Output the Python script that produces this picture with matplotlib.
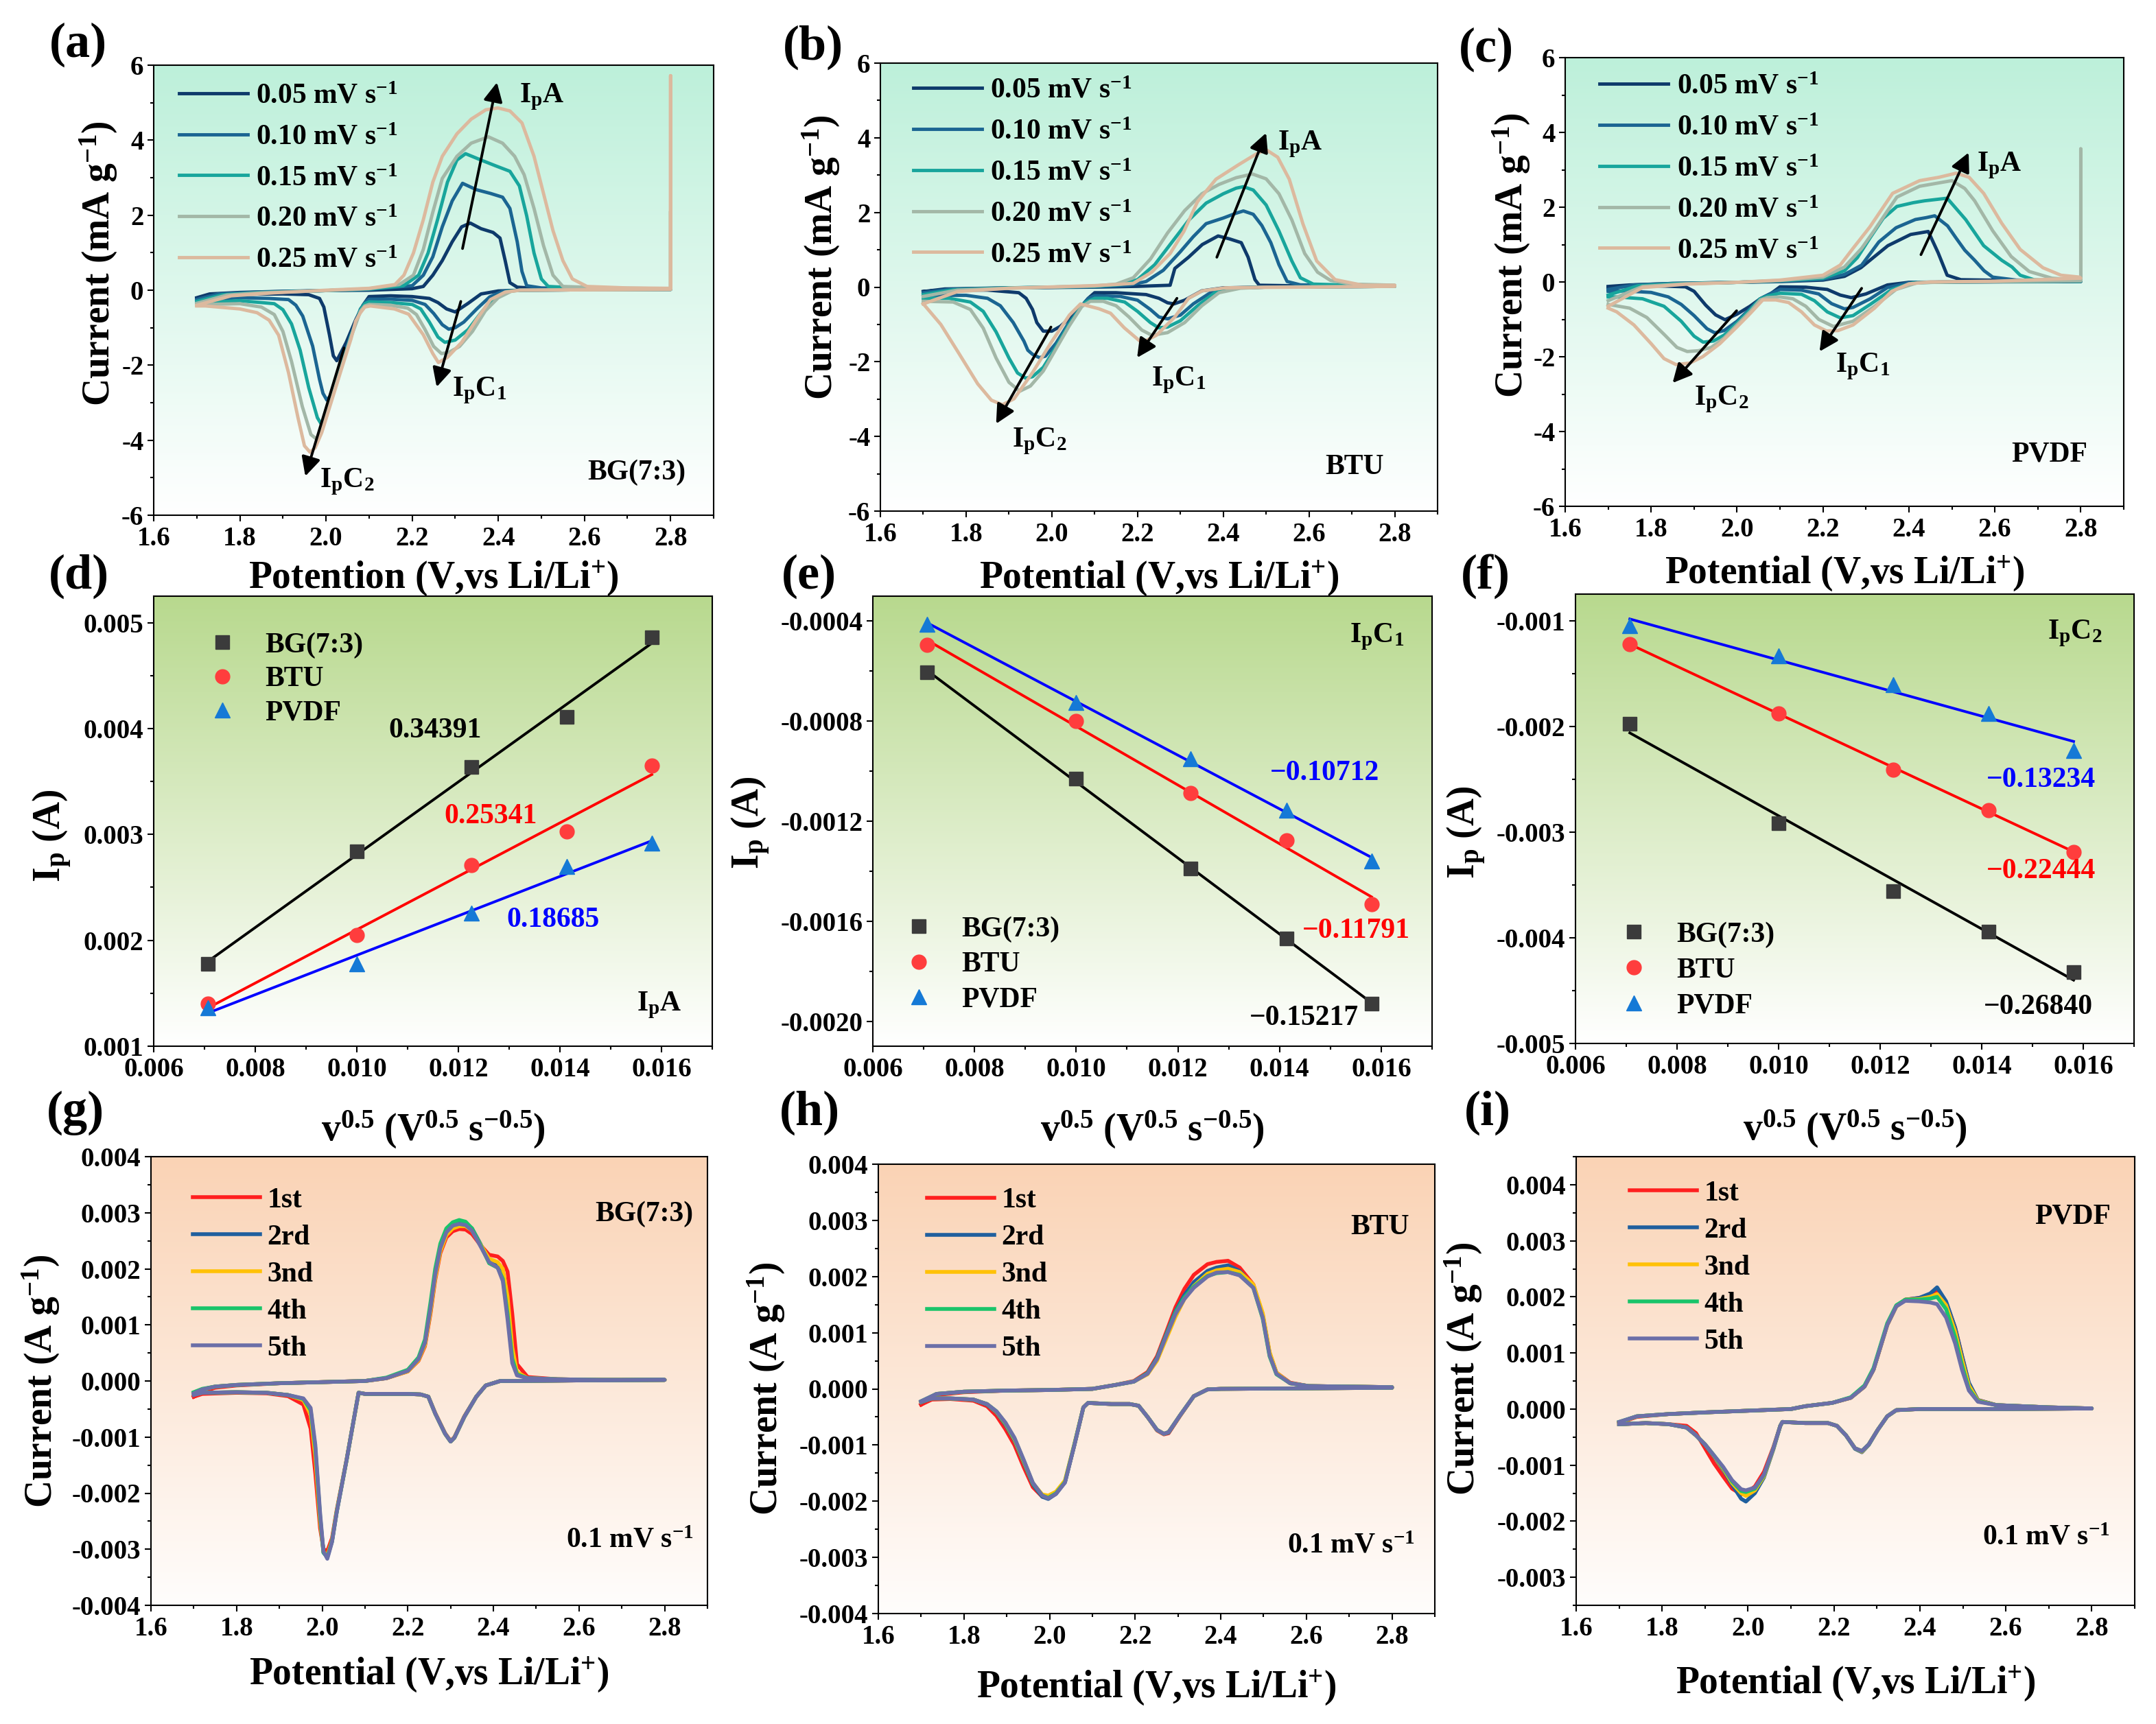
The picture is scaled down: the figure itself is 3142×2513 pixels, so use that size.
import numpy as np
import matplotlib
matplotlib.use('Agg')
import matplotlib.pyplot as plt
from matplotlib.ticker import MultipleLocator, FormatStrFormatter
from matplotlib.colors import to_rgb

# ---------------------------------------------------------------- data
SCAN_LABELS = [r'0.05 mV s$^{-1}$', r'0.10 mV s$^{-1}$', r'0.15 mV s$^{-1}$',
               r'0.20 mV s$^{-1}$', r'0.25 mV s$^{-1}$']
SCAN_COLORS = ['#0e3a6b', '#1b6592', '#18a59c', '#a3b7a7', '#dcb99e']

# (a) BG(7:3): (potential V, current mA/g), anodic 1.7->2.8 then cathodic 2.8->1.7
A_005 = [(1.70,-0.20),(1.73,-0.10),(1.80,-0.06),(1.90,-0.03),(2.00,-0.01),(2.10,0.00),(2.20,0.04),(2.226,0.10),(2.248,0.40),(2.27,0.79),(2.293,1.29),(2.315,1.69),(2.335,1.79),(2.36,1.64),(2.388,1.54),(2.404,1.39),(2.416,0.79),(2.427,0.20),(2.444,0.08),(2.50,0.04),(2.65,0.03),(2.80,0.03),
         (2.80,0.02),(2.60,0.01),(2.45,0.00),(2.40,-0.02),(2.36,-0.10),(2.33,-0.35),(2.30,-0.58),(2.28,-0.50),(2.26,-0.33),(2.24,-0.22),(2.20,-0.17),(2.15,-0.15),(2.10,-0.17),(2.086,-0.40),(2.069,-0.79),(2.047,-1.39),(2.025,-1.88),(2.017,-1.75),(2.008,-1.19),(1.995,-0.45),(1.985,-0.22),(1.96,-0.12),(1.90,-0.10),(1.80,-0.11),(1.72,-0.17),(1.70,-0.22)]
A_010 = [(1.70,-0.25),(1.75,-0.10),(1.85,-0.05),(2.00,-0.01),(2.10,0.02),(2.20,0.12),(2.226,0.40),(2.248,0.89),(2.27,1.69),(2.293,2.38),(2.317,2.85),(2.349,2.68),(2.382,2.58),(2.41,2.48),(2.427,2.18),(2.444,1.29),(2.455,0.50),(2.466,0.12),(2.50,0.06),(2.65,0.04),(2.80,0.03),
         (2.80,0.02),(2.60,0.01),(2.45,0.00),(2.41,-0.03),(2.38,-0.18),(2.35,-0.50),(2.32,-0.85),(2.30,-1.00),(2.285,-1.04),(2.27,-0.92),(2.25,-0.62),(2.23,-0.38),(2.20,-0.27),(2.15,-0.24),(2.10,-0.24),(2.095,-0.28),(2.08,-0.50),(2.058,-1.19),(2.036,-1.98),(2.013,-2.78),(2.002,-2.93),(1.993,-2.75),(1.985,-2.38),(1.969,-1.49),(1.946,-0.69),(1.93,-0.40),(1.913,-0.25),(1.868,-0.22),(1.80,-0.20),(1.72,-0.25),(1.70,-0.30)]
A_015 = [(1.70,-0.30),(1.76,-0.12),(1.85,-0.06),(2.00,-0.01),(2.10,0.03),(2.18,0.12),(2.215,0.40),(2.237,0.99),(2.259,1.88),(2.282,2.88),(2.304,3.47),(2.324,3.64),(2.36,3.47),(2.393,3.32),(2.427,3.17),(2.449,2.78),(2.466,1.98),(2.483,0.99),(2.50,0.30),(2.516,0.10),(2.60,0.05),(2.80,0.03),
         (2.80,0.02),(2.60,0.01),(2.45,0.00),(2.42,-0.03),(2.39,-0.20),(2.36,-0.60),(2.33,-1.05),(2.30,-1.33),(2.276,-1.39),(2.26,-1.25),(2.24,-0.85),(2.22,-0.50),(2.20,-0.38),(2.15,-0.33),(2.10,-0.31),(2.09,-0.36),(2.08,-0.52),(2.058,-1.22),(2.036,-2.02),(2.013,-2.85),(1.995,-3.45),(1.989,-3.57),(1.98,-3.40),(1.96,-2.60),(1.94,-1.60),(1.92,-0.90),(1.90,-0.52),(1.88,-0.36),(1.80,-0.28),(1.72,-0.33),(1.70,-0.36)]
A_020 = [(1.70,-0.35),(1.77,-0.13),(1.85,-0.07),(2.00,-0.01),(2.10,0.04),(2.17,0.15),(2.203,0.40),(2.226,1.09),(2.248,2.08),(2.27,2.98),(2.304,3.57),(2.337,3.92),(2.377,4.09),(2.41,3.92),(2.438,3.57),(2.46,3.08),(2.483,2.18),(2.505,1.19),(2.527,0.40),(2.55,0.10),(2.65,0.06),(2.80,0.04),(2.80,2.10),
         (2.80,0.02),(2.60,0.01),(2.45,0.00),(2.43,-0.03),(2.40,-0.20),(2.37,-0.55),(2.34,-1.10),(2.31,-1.50),(2.285,-1.66),(2.268,-1.69),(2.25,-1.50),(2.23,-1.05),(2.21,-0.65),(2.19,-0.48),(2.15,-0.40),(2.10,-0.38),(2.09,-0.42),(2.08,-0.56),(2.058,-1.25),(2.036,-2.05),(2.013,-2.90),(1.99,-3.70),(1.978,-3.97),(1.965,-3.85),(1.945,-3.10),(1.92,-1.90),(1.90,-1.10),(1.88,-0.65),(1.85,-0.45),(1.80,-0.36),(1.72,-0.38),(1.70,-0.40)]
A_025 = [(1.70,-0.40),(1.78,-0.15),(1.88,-0.07),(2.00,0.00),(2.10,0.05),(2.16,0.15),(2.181,0.40),(2.203,0.99),(2.226,1.88),(2.248,2.88),(2.27,3.57),(2.304,4.17),(2.337,4.56),(2.371,4.81),(2.399,4.86),(2.427,4.78),(2.455,4.46),(2.483,3.57),(2.505,2.58),(2.527,1.59),(2.55,0.79),(2.572,0.30),(2.606,0.10),(2.70,0.06),(2.80,0.05),(2.80,5.72),
         (2.80,0.02),(2.60,0.01),(2.45,0.00),(2.416,-0.05),(2.382,-0.25),(2.349,-0.79),(2.315,-1.39),(2.282,-1.79),(2.261,-1.93),(2.248,-1.69),(2.226,-1.19),(2.192,-0.64),(2.159,-0.50),(2.103,-0.42),(2.09,-0.45),(2.08,-0.60),(2.069,-0.82),(2.058,-1.30),(2.036,-2.10),(2.013,-2.95),(1.99,-3.80),(1.975,-4.20),(1.963,-4.32),(1.95,-4.15),(1.935,-3.40),(1.913,-2.20),(1.89,-1.20),(1.868,-0.80),(1.84,-0.60),(1.80,-0.50),(1.72,-0.42),(1.70,-0.42)]

# (b) BTU
B_005 = [(1.70,-0.12),(1.75,-0.05),(1.90,-0.02),(2.10,0.00),(2.20,0.02),(2.276,0.05),(2.287,0.50),(2.319,0.80),(2.351,1.14),(2.388,1.37),(2.415,1.29),(2.442,1.19),(2.458,0.80),(2.474,0.20),(2.484,0.05),(2.60,0.03),(2.80,0.03),
         (2.80,0.02),(2.50,0.00),(2.40,-0.02),(2.35,-0.10),(2.31,-0.35),(2.285,-0.45),(2.27,-0.42),(2.25,-0.30),(2.22,-0.20),(2.15,-0.15),(2.10,-0.15),(2.085,-0.30),(2.07,-0.50),(2.04,-0.85),(2.02,-1.05),(2.00,-1.18),(1.98,-1.18),(1.965,-0.95),(1.955,-0.60),(1.94,-0.30),(1.923,-0.15),(1.85,-0.08),(1.75,-0.08),(1.70,-0.12)]
B_010 = [(1.70,-0.15),(1.76,-0.06),(1.90,-0.02),(2.10,0.01),(2.18,0.05),(2.22,0.15),(2.26,0.45),(2.30,0.95),(2.33,1.35),(2.36,1.70),(2.40,1.85),(2.43,1.98),(2.447,2.04),(2.47,1.95),(2.49,1.65),(2.511,1.19),(2.53,0.60),(2.549,0.15),(2.58,0.06),(2.70,0.04),(2.80,0.03),
         (2.80,0.02),(2.50,0.00),(2.42,-0.02),(2.37,-0.15),(2.33,-0.45),(2.30,-0.75),(2.27,-0.85),(2.25,-0.80),(2.23,-0.60),(2.20,-0.35),(2.16,-0.25),(2.10,-0.23),(2.085,-0.30),(2.07,-0.50),(2.04,-0.95),(2.01,-1.50),(1.985,-1.85),(1.971,-1.89),(1.955,-1.80),(1.944,-1.69),(1.935,-1.45),(1.91,-0.95),(1.88,-0.50),(1.85,-0.30),(1.80,-0.22),(1.72,-0.22),(1.70,-0.25)]
B_015 = [(1.70,-0.20),(1.77,-0.07),(1.90,-0.02),(2.10,0.02),(2.16,0.07),(2.20,0.20),(2.24,0.60),(2.28,1.20),(2.32,1.80),(2.36,2.25),(2.40,2.50),(2.43,2.65),(2.447,2.69),(2.47,2.60),(2.50,2.20),(2.53,1.50),(2.56,0.70),(2.58,0.25),(2.61,0.08),(2.70,0.05),(2.80,0.04),
         (2.80,0.02),(2.50,0.00),(2.43,-0.02),(2.38,-0.15),(2.34,-0.50),(2.30,-0.90),(2.27,-1.07),(2.249,-1.09),(2.23,-0.95),(2.20,-0.65),(2.17,-0.40),(2.13,-0.30),(2.10,-0.30),(2.08,-0.40),(2.07,-0.50),(2.04,-1.00),(2.01,-1.60),(1.98,-2.15),(1.955,-2.40),(1.939,-2.44),(1.92,-2.30),(1.90,-1.90),(1.87,-1.20),(1.84,-0.65),(1.81,-0.40),(1.76,-0.30),(1.70,-0.30)]
B_020 = [(1.70,-0.25),(1.78,-0.08),(1.90,-0.03),(2.10,0.03),(2.15,0.08),(2.19,0.25),(2.23,0.75),(2.27,1.45),(2.31,2.05),(2.35,2.50),(2.39,2.75),(2.43,2.93),(2.468,3.03),(2.50,2.90),(2.53,2.50),(2.56,1.80),(2.59,0.90),(2.62,0.40),(2.65,0.18),(2.70,0.08),(2.80,0.05),
         (2.80,0.02),(2.50,0.00),(2.44,-0.03),(2.39,-0.15),(2.35,-0.50),(2.31,-0.95),(2.27,-1.22),(2.233,-1.29),(2.21,-1.15),(2.18,-0.80),(2.15,-0.50),(2.12,-0.38),(2.09,-0.38),(2.07,-0.52),(2.04,-1.05),(2.01,-1.65),(1.98,-2.25),(1.95,-2.65),(1.925,-2.79),(1.90,-2.55),(1.87,-1.90),(1.84,-1.10),(1.81,-0.60),(1.77,-0.40),(1.70,-0.38)]
B_025 = [(1.70,-0.45),(1.78,-0.12),(1.90,-0.03),(2.10,0.04),(2.15,0.07),(2.19,0.10),(2.233,0.40),(2.276,0.90),(2.308,1.49),(2.34,2.29),(2.383,2.89),(2.436,3.28),(2.479,3.58),(2.50,3.68),(2.527,3.48),(2.554,2.89),(2.586,1.69),(2.618,0.70),(2.661,0.20),(2.725,0.05),(2.80,0.05),
         (2.80,0.02),(2.60,0.00),(2.45,-0.01),(2.404,-0.02),(2.351,-0.10),(2.319,-0.30),(2.287,-0.80),(2.244,-1.29),(2.21,-1.49),(2.169,-1.09),(2.137,-0.70),(2.11,-0.58),(2.083,-0.50),(2.067,-0.45),(2.041,-0.75),(1.998,-1.49),(1.955,-2.29),(1.912,-2.99),(1.885,-3.15),(1.859,-3.03),(1.827,-2.59),(1.784,-1.79),(1.741,-1.00),(1.704,-0.50),(1.70,-0.45)]

# (c) PVDF
C_005 = [(1.70,-0.12),(1.75,-0.08),(1.85,-0.04),(2.00,-0.01),(2.10,0.01),(2.20,0.05),(2.25,0.15),(2.288,0.38),(2.351,0.97),(2.404,1.27),(2.445,1.35),(2.468,0.78),(2.489,0.18),(2.521,0.06),(2.70,0.03),(2.80,0.02),
         (2.80,0.01),(2.50,0.00),(2.40,-0.01),(2.35,-0.08),(2.30,-0.32),(2.266,-0.42),(2.24,-0.35),(2.21,-0.20),(2.16,-0.14),(2.10,-0.13),(2.08,-0.30),(2.054,-0.45),(2.03,-0.65),(2.00,-0.86),(1.972,-1.01),(1.95,-0.88),(1.927,-0.62),(1.90,-0.25),(1.88,-0.13),(1.80,-0.10),(1.72,-0.13),(1.70,-0.15)]
C_010 = [(1.70,-0.20),(1.76,-0.08),(1.85,-0.04),(2.00,-0.01),(2.10,0.02),(2.20,0.07),(2.25,0.20),(2.29,0.45),(2.33,1.07),(2.37,1.45),(2.415,1.67),(2.44,1.72),(2.46,1.77),(2.49,1.50),(2.51,1.17),(2.53,0.85),(2.553,0.58),(2.575,0.30),(2.595,0.13),(2.65,0.05),(2.80,0.03),
         (2.80,0.02),(2.50,0.00),(2.40,-0.02),(2.35,-0.15),(2.31,-0.45),(2.27,-0.68),(2.25,-0.72),(2.22,-0.58),(2.19,-0.32),(2.15,-0.22),(2.10,-0.20),(2.08,-0.30),(2.054,-0.45),(2.03,-0.72),(2.00,-1.05),(1.97,-1.30),(1.948,-1.36),(1.93,-1.25),(1.90,-0.90),(1.87,-0.60),(1.84,-0.40),(1.80,-0.28),(1.74,-0.24),(1.70,-0.25)]
C_015 = [(1.70,-0.35),(1.77,-0.10),(1.85,-0.05),(2.00,-0.01),(2.10,0.03),(2.20,0.10),(2.25,0.30),(2.28,0.65),(2.309,1.17),(2.34,1.70),(2.372,2.02),(2.41,2.12),(2.436,2.17),(2.489,2.24),(2.532,1.67),(2.574,0.97),(2.616,0.58),(2.64,0.40),(2.659,0.18),(2.691,0.06),(2.75,0.03),(2.80,0.02),
         (2.80,0.02),(2.50,0.00),(2.41,-0.02),(2.36,-0.20),(2.31,-0.60),(2.27,-0.90),(2.24,-0.96),(2.21,-0.80),(2.18,-0.50),(2.15,-0.33),(2.10,-0.30),(2.07,-0.38),(2.054,-0.45),(2.03,-0.75),(2.00,-1.10),(1.97,-1.42),(1.945,-1.58),(1.921,-1.61),(1.90,-1.45),(1.87,-1.05),(1.83,-0.65),(1.78,-0.45),(1.72,-0.40),(1.70,-0.40)]
C_020 = [(1.70,-0.50),(1.78,-0.12),(1.88,-0.05),(2.00,-0.01),(2.10,0.04),(2.20,0.13),(2.25,0.40),(2.29,0.90),(2.319,1.37),(2.35,1.90),(2.372,2.27),(2.425,2.56),(2.50,2.71),(2.53,2.50),(2.553,2.17),(2.595,1.37),(2.638,0.68),(2.68,0.28),(2.733,0.10),(2.80,0.05),(2.80,3.56),
         (2.80,0.03),(2.50,0.00),(2.42,-0.02),(2.37,-0.20),(2.32,-0.65),(2.27,-1.05),(2.224,-1.19),(2.19,-1.00),(2.16,-0.65),(2.13,-0.45),(2.10,-0.40),(2.07,-0.42),(2.054,-0.48),(2.03,-0.80),(2.00,-1.15),(1.97,-1.50),(1.94,-1.75),(1.91,-1.84),(1.884,-1.86),(1.86,-1.75),(1.83,-1.40),(1.79,-0.95),(1.75,-0.70),(1.70,-0.60)]
C_025 = [(1.70,-0.65),(1.78,-0.15),(1.88,-0.06),(2.00,-0.01),(2.10,0.05),(2.20,0.18),(2.24,0.45),(2.27,0.90),(2.309,1.47),(2.362,2.37),(2.425,2.71),(2.47,2.80),(2.51,2.91),(2.54,2.80),(2.574,2.37),(2.616,1.57),(2.659,0.87),(2.712,0.38),(2.754,0.18),(2.797,0.13),
         (2.80,0.10),(2.60,0.02),(2.45,0.00),(2.40,-0.05),(2.36,-0.25),(2.32,-0.70),(2.27,-1.15),(2.235,-1.30),(2.208,-1.31),(2.18,-1.15),(2.15,-0.80),(2.12,-0.55),(2.09,-0.48),(2.06,-0.48),(2.03,-0.85),(2.00,-1.20),(1.96,-1.65),(1.92,-2.00),(1.89,-2.17),(1.858,-2.21),(1.83,-2.05),(1.80,-1.65),(1.76,-1.15),(1.72,-0.80),(1.70,-0.70)]

# (d)-(f) peak currents vs sqrt(scan rate)
SQRT_V = [0.00707, 0.01000, 0.01225, 0.01414, 0.01581]
IPA_BG   = [0.00178, 0.00284, 0.00364, 0.00411, 0.00486]
IPA_BTU  = [0.00140, 0.00205, 0.00271, 0.00303, 0.00365]
IPA_PVDF = [0.00136, 0.00178, 0.00226, 0.00270, 0.00292]
IPC1_BG   = [-0.000605, -0.00103, -0.00139, -0.00167, -0.00193]
IPC1_BTU  = [-0.000494, -0.00080, -0.001088, -0.001278, -0.001531]
IPC1_PVDF = [-0.000412, -0.000724, -0.000951, -0.001155, -0.00136]
IPC2_BG   = [-0.001974, -0.002916, -0.003559, -0.003942, -0.004322]
IPC2_BTU  = [-0.001221, -0.001879, -0.00241, -0.002793, -0.00319]
IPC2_PVDF = [-0.001046, -0.001334, -0.001608, -0.001879, -0.00223]
SLOPES_A  = ['0.34391', '0.25341', '0.18685']
SLOPES_C1 = ['\u22120.15217', '\u22120.11791', '\u22120.10712']
SLOPES_C2 = ['\u22120.26840', '\u22120.22444', '\u22120.13234']
BINDERS = ['BG(7:3)', 'BTU', 'PVDF']

# (g)-(i) five cycles at 0.1 mV/s (current A/g)
CYCLE_LABELS = ['1st', '2rd', '3nd', '4th', '5th']
CYCLE_COLORS = ['#ff1f1f', '#1f5f9e', '#ffc107', '#19c46a', '#6b6fa8']

G_V_AN = [1.70,1.72,1.75,1.80,1.90,2.00,2.10,2.15,2.20,2.225,2.24,2.253,2.264,2.276,2.29,2.305,2.32,2.335,2.35,2.37,2.39,2.41,2.422,2.433,2.444,2.455,2.48,2.55,2.65,2.80]
G_V_CA = [2.80,2.60,2.45,2.416,2.382,2.36,2.332,2.309,2.30,2.287,2.264,2.248,2.23,2.20,2.15,2.10,2.085,2.074,2.057,2.034,2.023,2.012,2.003,1.995,1.984,1.973,1.956,1.92,1.87,1.80,1.72,1.70]
G_AN = [
 [-0.00028,-0.00019,-0.00012,-0.00008,-0.00004,-0.00002,0.00000,0.00005,0.00017,0.00036,0.00062,0.00120,0.00180,0.00228,0.00256,0.00267,0.00271,0.00270,0.00262,0.00242,0.00225,0.00222,0.00214,0.00195,0.00120,0.00030,0.00007,0.00003,0.00002,0.00002],
 [-0.00021,-0.00015,-0.00010,-0.00007,-0.00004,-0.00002,0.00000,0.00005,0.00018,0.00038,0.00066,0.00126,0.00186,0.00234,0.00264,0.00277,0.00281,0.00281,0.00272,0.00244,0.00212,0.00205,0.00190,0.00135,0.00048,0.00014,0.00005,0.00003,0.00002,0.00002],
 [-0.00022,-0.00015,-0.00010,-0.00007,-0.00004,-0.00002,0.00000,0.00005,0.00017,0.00037,0.00064,0.00123,0.00183,0.00231,0.00260,0.00272,0.00276,0.00276,0.00268,0.00243,0.00218,0.00212,0.00200,0.00150,0.00060,0.00016,0.00005,0.00003,0.00002,0.00002],
 [-0.00020,-0.00014,-0.00010,-0.00007,-0.00004,-0.00002,0.00000,0.00006,0.00020,0.00042,0.00074,0.00140,0.00200,0.00245,0.00272,0.00283,0.00287,0.00284,0.00272,0.00242,0.00210,0.00202,0.00182,0.00120,0.00040,0.00012,0.00005,0.00003,0.00002,0.00002],
 [-0.00022,-0.00015,-0.00010,-0.00007,-0.00004,-0.00002,0.00000,0.00005,0.00018,0.00039,0.00068,0.00130,0.00190,0.00237,0.00265,0.00277,0.00280,0.00278,0.00268,0.00240,0.00212,0.00202,0.00178,0.00110,0.00032,0.00010,0.00005,0.00003,0.00002,0.00002]]
G_CA = [
 [0.00002,0.00001,0.00000,0.00000,-0.00008,-0.00028,-0.00063,-0.00100,-0.00107,-0.00093,-0.00057,-0.00028,-0.00024,-0.00023,-0.00023,-0.00023,-0.00021,-0.00068,-0.00140,-0.00230,-0.00280,-0.00303,-0.00300,-0.00262,-0.00165,-0.00085,-0.00042,-0.00027,-0.00022,-0.00021,-0.00023,-0.00028],
 [0.00002,0.00001,0.00000,0.00000,-0.00008,-0.00028,-0.00064,-0.00101,-0.00108,-0.00094,-0.00058,-0.00028,-0.00024,-0.00023,-0.00023,-0.00023,-0.00021,-0.00068,-0.00141,-0.00233,-0.00285,-0.00314,-0.00306,-0.00245,-0.00125,-0.00055,-0.00033,-0.00025,-0.00021,-0.00020,-0.00021,-0.00024],
 [0.00002,0.00001,0.00000,0.00000,-0.00008,-0.00028,-0.00064,-0.00101,-0.00108,-0.00094,-0.00058,-0.00028,-0.00024,-0.00023,-0.00023,-0.00023,-0.00021,-0.00068,-0.00141,-0.00232,-0.00284,-0.00311,-0.00305,-0.00250,-0.00135,-0.00060,-0.00034,-0.00025,-0.00021,-0.00020,-0.00021,-0.00024],
 [0.00002,0.00001,0.00000,0.00000,-0.00008,-0.00028,-0.00064,-0.00101,-0.00108,-0.00094,-0.00058,-0.00028,-0.00024,-0.00023,-0.00023,-0.00023,-0.00021,-0.00068,-0.00141,-0.00233,-0.00286,-0.00314,-0.00306,-0.00240,-0.00120,-0.00052,-0.00032,-0.00025,-0.00021,-0.00020,-0.00021,-0.00024],
 [0.00002,0.00001,0.00000,0.00000,-0.00008,-0.00028,-0.00064,-0.00101,-0.00108,-0.00094,-0.00058,-0.00028,-0.00024,-0.00023,-0.00023,-0.00023,-0.00021,-0.00068,-0.00141,-0.00234,-0.00287,-0.00317,-0.00304,-0.00234,-0.00114,-0.00048,-0.00031,-0.00025,-0.00021,-0.00020,-0.00021,-0.00025]]

H_V_AN = [1.70,1.736,1.80,1.90,2.00,2.10,2.154,2.197,2.229,2.251,2.272,2.294,2.315,2.337,2.369,2.39,2.417,2.444,2.476,2.498,2.514,2.53,2.562,2.605,2.70,2.80]
H_V_CA = [2.80,2.60,2.40,2.369,2.337,2.305,2.278,2.267,2.251,2.229,2.208,2.187,2.144,2.09,2.079,2.058,2.036,2.015,1.997,1.983,1.961,1.94,1.918,1.897,1.876,1.854,1.822,1.768,1.725,1.70]
H_AN = [
 [-0.00028,-0.00011,-0.00006,-0.00003,-0.00002,0.00000,0.00007,0.00014,0.00030,0.00058,0.00100,0.00145,0.00178,0.00203,0.00222,0.00226,0.00228,0.00216,0.00186,0.00132,0.00064,0.00029,0.00011,0.00005,0.00004,0.00003],
 [-0.00023,-0.00009,-0.00005,-0.00003,-0.00002,0.00000,0.00007,0.00013,0.00028,0.00055,0.00096,0.00138,0.00167,0.00190,0.00210,0.00216,0.00220,0.00210,0.00184,0.00130,0.00063,0.00028,0.00010,0.00005,0.00004,0.00003],
 [-0.00023,-0.00009,-0.00005,-0.00003,-0.00002,0.00000,0.00007,0.00013,0.00026,0.00050,0.00088,0.00128,0.00160,0.00183,0.00205,0.00211,0.00214,0.00208,0.00186,0.00135,0.00066,0.00029,0.00010,0.00005,0.00004,0.00003],
 [-0.00022,-0.00009,-0.00005,-0.00003,-0.00002,0.00000,0.00007,0.00013,0.00028,0.00054,0.00095,0.00136,0.00163,0.00182,0.00201,0.00206,0.00208,0.00203,0.00180,0.00125,0.00058,0.00026,0.00010,0.00005,0.00004,0.00003],
 [-0.00022,-0.00009,-0.00005,-0.00003,-0.00002,0.00000,0.00007,0.00013,0.00027,0.00053,0.00093,0.00133,0.00160,0.00180,0.00200,0.00207,0.00208,0.00202,0.00180,0.00127,0.00060,0.00027,0.00010,0.00005,0.00004,0.00003]]
H_CA = [
 [0.00002,0.00001,0.00000,-0.00001,-0.00013,-0.00048,-0.00079,-0.00081,-0.00074,-0.00050,-0.00030,-0.00027,-0.00027,-0.00025,-0.00033,-0.00100,-0.00165,-0.00185,-0.00193,-0.00192,-0.00175,-0.00140,-0.00100,-0.00072,-0.00048,-0.00031,-0.00021,-0.00018,-0.00019,-0.00028],
 [0.00002,0.00001,0.00000,-0.00001,-0.00013,-0.00047,-0.00078,-0.00080,-0.00073,-0.00050,-0.00030,-0.00027,-0.00027,-0.00025,-0.00033,-0.00100,-0.00166,-0.00187,-0.00196,-0.00192,-0.00170,-0.00132,-0.00092,-0.00064,-0.00042,-0.00028,-0.00019,-0.00017,-0.00017,-0.00024],
 [0.00002,0.00001,0.00000,-0.00001,-0.00013,-0.00047,-0.00077,-0.00080,-0.00073,-0.00050,-0.00030,-0.00027,-0.00027,-0.00025,-0.00033,-0.00098,-0.00163,-0.00183,-0.00190,-0.00188,-0.00168,-0.00130,-0.00090,-0.00062,-0.00041,-0.00027,-0.00019,-0.00017,-0.00017,-0.00023],
 [0.00002,0.00001,0.00000,-0.00001,-0.00013,-0.00047,-0.00077,-0.00080,-0.00073,-0.00050,-0.00030,-0.00027,-0.00027,-0.00025,-0.00033,-0.00099,-0.00166,-0.00186,-0.00194,-0.00190,-0.00168,-0.00128,-0.00088,-0.00061,-0.00040,-0.00027,-0.00019,-0.00017,-0.00017,-0.00023],
 [0.00002,0.00001,0.00000,-0.00001,-0.00013,-0.00047,-0.00077,-0.00080,-0.00073,-0.00050,-0.00030,-0.00027,-0.00027,-0.00025,-0.00033,-0.00100,-0.00167,-0.00187,-0.00195,-0.00190,-0.00167,-0.00127,-0.00087,-0.00060,-0.00040,-0.00027,-0.00019,-0.00017,-0.00017,-0.00023]]

I_V_AN = [1.70,1.741,1.815,1.90,2.00,2.10,2.133,2.196,2.239,2.271,2.292,2.308,2.324,2.345,2.366,2.398,2.424,2.44,2.461,2.482,2.498,2.514,2.535,2.578,2.70,2.80]
I_V_CA = [2.80,2.60,2.40,2.345,2.324,2.302,2.281,2.265,2.249,2.228,2.207,2.186,2.133,2.08,2.075,2.059,2.037,2.016,1.995,1.984,1.963,1.942,1.921,1.90,1.879,1.857,1.815,1.762,1.704,1.70]
I_AN = [
 [-0.00025,-0.00014,-0.00009,-0.00006,-0.00003,0.00000,0.00005,0.00011,0.00020,0.00040,0.00070,0.00110,0.00150,0.00183,0.00195,0.00198,0.00203,0.00210,0.00190,0.00145,0.00095,0.00045,0.00016,0.00007,0.00003,0.00001],
 [-0.00024,-0.00013,-0.00009,-0.00006,-0.00003,0.00000,0.00005,0.00011,0.00020,0.00040,0.00070,0.00110,0.00150,0.00183,0.00195,0.00198,0.00206,0.00217,0.00192,0.00145,0.00095,0.00047,0.00016,0.00007,0.00003,0.00001],
 [-0.00024,-0.00013,-0.00009,-0.00006,-0.00003,0.00000,0.00005,0.00011,0.00020,0.00040,0.00070,0.00110,0.00150,0.00183,0.00195,0.00196,0.00200,0.00205,0.00185,0.00138,0.00088,0.00042,0.00015,0.00007,0.00003,0.00001],
 [-0.00023,-0.00013,-0.00009,-0.00006,-0.00003,0.00000,0.00005,0.00011,0.00021,0.00042,0.00073,0.00113,0.00153,0.00185,0.00195,0.00195,0.00197,0.00200,0.00178,0.00128,0.00078,0.00036,0.00014,0.00007,0.00003,0.00001],
 [-0.00023,-0.00013,-0.00009,-0.00006,-0.00003,0.00000,0.00005,0.00011,0.00020,0.00040,0.00070,0.00110,0.00150,0.00183,0.00193,0.00192,0.00190,0.00187,0.00163,0.00117,0.00070,0.00033,0.00013,0.00007,0.00003,0.00001]]
I_CA = [
 [0.00001,0.00000,0.00000,-0.00002,-0.00013,-0.00037,-0.00063,-0.00075,-0.00070,-0.00047,-0.00030,-0.00025,-0.00025,-0.00023,-0.00030,-0.00068,-0.00112,-0.00138,-0.00150,-0.00152,-0.00142,-0.00120,-0.00097,-0.00070,-0.00043,-0.00030,-0.00027,-0.00025,-0.00027,-0.00027],
 [0.00001,0.00000,0.00000,-0.00002,-0.00013,-0.00037,-0.00064,-0.00077,-0.00071,-0.00047,-0.00030,-0.00025,-0.00025,-0.00023,-0.00030,-0.00072,-0.00122,-0.00150,-0.00165,-0.00160,-0.00135,-0.00108,-0.00085,-0.00064,-0.00047,-0.00033,-0.00027,-0.00025,-0.00027,-0.00027],
 [0.00001,0.00000,0.00000,-0.00002,-0.00013,-0.00037,-0.00063,-0.00076,-0.00070,-0.00047,-0.00030,-0.00025,-0.00025,-0.00023,-0.00030,-0.00071,-0.00120,-0.00145,-0.00155,-0.00150,-0.00132,-0.00106,-0.00084,-0.00063,-0.00047,-0.00033,-0.00027,-0.00025,-0.00027,-0.00027],
 [0.00001,0.00000,0.00000,-0.00002,-0.00013,-0.00037,-0.00063,-0.00075,-0.00070,-0.00047,-0.00030,-0.00025,-0.00025,-0.00023,-0.00030,-0.00070,-0.00118,-0.00142,-0.00148,-0.00146,-0.00129,-0.00104,-0.00083,-0.00063,-0.00047,-0.00033,-0.00027,-0.00025,-0.00027,-0.00027],
 [0.00001,0.00000,0.00000,-0.00002,-0.00013,-0.00037,-0.00063,-0.00075,-0.00070,-0.00047,-0.00030,-0.00025,-0.00025,-0.00023,-0.00030,-0.00070,-0.00117,-0.00140,-0.00145,-0.00143,-0.00127,-0.00103,-0.00083,-0.00063,-0.00047,-0.00033,-0.00027,-0.00025,-0.00027,-0.00027]]

# ---------------------------------------------------------------- style
plt.rcParams.update({
    'font.family': ['Liberation Serif', 'DejaVu Serif'],
    'font.weight': 'bold',
    'axes.labelweight': 'bold',
    'mathtext.fontset': 'custom',
    'mathtext.rm': 'Liberation Serif:bold',
    'mathtext.bf': 'Liberation Serif:bold',
    'mathtext.it': 'Liberation Serif:italic:bold',
    'mathtext.default': 'rm',
    'axes.unicode_minus': False,
    'axes.linewidth': 1.5,
    'xtick.direction': 'out', 'ytick.direction': 'out',
    'xtick.major.size': 6.5, 'ytick.major.size': 6.5,
    'xtick.minor.size': 3.5, 'ytick.minor.size': 3.5,
    'xtick.major.width': 1.5, 'ytick.major.width': 1.5,
    'xtick.minor.width': 1.5, 'ytick.minor.width': 1.5,
    'xtick.labelsize': 28, 'ytick.labelsize': 28,
    'xtick.major.pad': 5, 'ytick.major.pad': 4,
})

W, H = 3142, 2513
fig = plt.figure(figsize=(W / 100, H / 100), dpi=100)
fig.patch.set_facecolor('white')

def add_ax(l, r, t, b):
    return fig.add_axes([l / W, 1 - b / H, (r - l) / W, (b - t) / H])

def gradient_bg(ax, top, bottom):
    t = np.array(to_rgb(top)); bt = np.array(to_rgb(bottom))
    f = np.linspace(0, 1, 256)[:, None]
    img = (t * (1 - f) + bt * f)[:, None, :]
    ax.imshow(img, extent=[0, 1, 0, 1], transform=ax.transAxes, aspect='auto',
              zorder=0, interpolation='bilinear')

def finish(ax, xlim, ylim, xticks, yticks, xminor, yminor, xfmt, yfmt):
    ax.set_xlim(*xlim); ax.set_ylim(*ylim)
    ax.set_xticks(xticks); ax.set_yticks(yticks)
    ax.xaxis.set_minor_locator(MultipleLocator(xminor))
    ax.yaxis.set_minor_locator(MultipleLocator(yminor))
    ax.xaxis.set_major_formatter(FormatStrFormatter(xfmt))
    ax.yaxis.set_major_formatter(FormatStrFormatter(yfmt))
    ax.tick_params(which='both', top=False, right=False)

def labels(ax, xl, yl, xc, yc, ymid=0.5, size=40):
    ax.set_xlabel(xl, fontsize=size)
    ax.set_ylabel(yl, fontsize=size)
    ax.xaxis.label.set_va('center')
    ax.yaxis.label.set_va('center')
    ax.xaxis.set_label_coords(0.5, xc)
    ax.yaxis.set_label_coords(yc, ymid)

ROW1_TOP, ROW2_TOP, ROW3_TOP = '#bdf0da', '#b8d98e', '#fad3b5'
POT_LABEL = r'Potential (V,vs Li/Li$^{+}$)'
V_TICKS = [1.6, 1.8, 2.0, 2.2, 2.4, 2.6, 2.8]
LEG_FONT = {'size': 30, 'weight': 'bold'}

# ---------------------------------------------------------------- row 1
row1 = [
    ('(a)', (224, 1040, 95, 751), [A_005, A_010, A_015, A_020, A_025], 'BG(7:3)',
     r'Potention (V,vs Li/Li$^{+}$)', -0.140, -0.098, 0.560, (114, 65),
     ((2.317, 1.11), (2.397, 5.54), (2.449, 5.16)),
     ((2.313, -0.30), (2.257, -2.58), (2.293, -2.68)),
     ((2.042, -1.54), (1.952, -4.96), (1.985, -5.11)), (2.835, -4.86), (0.045, 0.960)),
    ('(b)', (1283, 2095, 92, 745), [B_005, B_010, B_015, B_020, B_025], 'BTU',
     POT_LABEL, -0.150, -0.106, 0.566, (1185, 69),
     ((2.385, 0.80), (2.50, 4.13), (2.527, 3.83)),
     ((2.292, -0.30), (2.199, -1.89), (2.233, -2.49)),
     ((1.998, -1.07), (1.870, -3.66), (1.907, -4.13)), (2.775, -4.83), (0.059, 0.967)),
    ('(c)', (2281, 3095, 84, 738), [C_005, C_010, C_015, C_020, C_025], 'PVDF',
     POT_LABEL, -0.150, -0.096, 0.560, (2166, 72),
     ((2.428, 0.73), (2.539, 3.46), (2.558, 3.11)),
     ((2.290, -0.17), (2.192, -1.86), (2.229, -2.26)),
     ((1.999, -0.77), (1.850, -2.70), (1.900, -3.15)), (2.816, -4.61), (0.062, 0.964)),
]
for (tag, box, curves, name, xl, xc, yc, ymid, tagpos, arrA, arrC1, arrC2, namepos, legpos) in row1:
    ax = add_ax(*box)
    gradient_bg(ax, ROW1_TOP, '#ffffff')
    for curve, col, lab in zip(curves, SCAN_COLORS, SCAN_LABELS):
        v, i = zip(*curve)
        ax.plot(v, i, color=col, lw=3.5, label=lab, zorder=3, solid_joinstyle='round')
    for (tail, head, txt), s in zip((arrA, arrC1, arrC2),
                                    (r'I$_{\rm p}$A', r'I$_{\rm p}$C$_{1}$', r'I$_{\rm p}$C$_{2}$')):
        ax.annotate('', xy=head, xytext=tail,
                    arrowprops=dict(arrowstyle='-|>', color='black', lw=2.8,
                                    mutation_scale=42, shrinkA=0, shrinkB=0), zorder=5)
        ax.text(txt[0], txt[1], s, fontsize=30, ha='left', va='center', zorder=6)
    ax.text(namepos[0], namepos[1], name, fontsize=30, ha='right', va='center', zorder=6)
    finish(ax, (1.6, 2.9), (-6, 6), V_TICKS, [-6, -4, -2, 0, 2, 4, 6], 0.1, 1, '%.1f', '%g')
    labels(ax, xl, r'Current (mA g$^{-1}$)', xc, yc, ymid)
    ax.legend(loc='upper left', bbox_to_anchor=legpos, frameon=False, prop=LEG_FONT,
              handlelength=2.4, handletextpad=0.3, labelspacing=0.52,
              borderpad=0, borderaxespad=0)
    fig.text(tagpos[0] / W, 1 - tagpos[1] / H, tag, fontsize=52, ha='center', va='center')

# ---------------------------------------------------------------- row 2
MARKERS = [('s', '#3b3b3b', 14), ('o', '#ff3d3d', 15), ('^', '#1579d6', 16)]
LINE_COLS = ['#000000', '#ff0000', '#0000ff']
row2 = [
    ('(d)', (224, 1038, 869, 1525), [IPA_BG, IPA_BTU, IPA_PVDF], SLOPES_A,
     [(0.01154, 0.00398), (0.01264, 0.003172), (0.01387, 0.002195)], 'data',
     (r'I$_{\rm p}$A', 0.905, 0.091), (0.001, 0.00525),
     [0.001, 0.002, 0.003, 0.004, 0.005], 0.0005, '%.3f', -0.186, -0.181, 0.468, (115, 840),
     (0.0975, 0.920), 0.27),
    ('(e)', (1272, 2087, 869, 1525), [IPC1_BG, IPC1_BTU, IPC1_PVDF], SLOPES_C1,
     [(0.771, 0.062), (0.864, 0.256), (0.808, 0.607)], 'axes',
     (r'I$_{\rm p}$C$_{1}$', 0.901, 0.909), (-0.0021, -0.0003),
     [-0.0020, -0.0016, -0.0012, -0.0008, -0.0004], 0.0002, '%.4f', -0.186, -0.218, 0.497, (1179, 840),
     (0.0565, 0.289), 0.32),
    ('(f)', (2296, 3110, 866, 1521), [IPC2_BG, IPC2_BTU, IPC2_PVDF], SLOPES_C2,
     [(0.829, 0.081), (0.833, 0.383), (0.833, 0.586)], 'axes',
     (r'I$_{\rm p}$C$_{2}$', 0.894, 0.913), (-0.005, -0.00075),
     [-0.005, -0.004, -0.003, -0.002, -0.001], 0.0005, '%.3f', -0.190, -0.195, 0.470, (2165, 840),
     (0.0785, 0.271), 0.33),
]
for (tag, box, series, slopes, spos, scoord, peak, ylim, yticks, yminor, yfmt,
     xc, yc, ymid, tagpos, legpos, lsp) in row2:
    ax = add_ax(*box)
    gradient_bg(ax, ROW2_TOP, '#ffffff')
    for y, (mk, mc, ms), lc, name in zip(series, MARKERS, LINE_COLS, BINDERS):
        k, c0 = np.polyfit(SQRT_V, y, 1)
        ax.plot([SQRT_V[0], SQRT_V[-1]], [k * SQRT_V[0] + c0, k * SQRT_V[-1] + c0],
                color=lc, lw=2.8, zorder=3)
        ax.plot(SQRT_V, y, ls='none', marker=mk, color=mc, ms=ms, mec=mc, zorder=4, label=name)
    for s, (px, py), lc in zip(slopes, spos, LINE_COLS):
        kw = dict(transform=ax.transAxes) if scoord == 'axes' else {}
        ax.text(px, py, s, color=lc, fontsize=30, ha='center', va='center', zorder=6, **kw)
    ax.text(peak[1], peak[2], peak[0], fontsize=30, ha='center', va='center',
            transform=ax.transAxes, zorder=6)
    finish(ax, (0.006, 0.017), ylim, [0.006, 0.008, 0.010, 0.012, 0.014, 0.016], yticks,
           0.001, yminor, '%.3f', yfmt)
    labels(ax, r'v$^{0.5}$ (V$^{0.5}$ s$^{-0.5}$)', r'I$_{\rm p}$ (A)', xc, yc, ymid)
    ax.legend(loc='upper left', bbox_to_anchor=legpos, frameon=False, prop=LEG_FONT,
              handlelength=1.0, handletextpad=1.0, labelspacing=lsp,
              borderpad=0, borderaxespad=0, numpoints=1)
    fig.text(tagpos[0] / W, 1 - tagpos[1] / H, tag, fontsize=52, ha='center', va='center')

# ---------------------------------------------------------------- row 3
row3 = [
    ('(g)', (220, 1031, 1686, 2340), G_V_AN, G_V_CA, G_AN, G_CA, 'BG(7:3)',
     (2.867, 0.00298), (2.867, -0.00284), (-0.004, 0.004),
     [-0.004, -0.003, -0.002, -0.001, 0.0, 0.001, 0.002, 0.003, 0.004],
     -0.154, -0.197, 0.50, (110, 1622), (0.075, 0.932)),
    ('(h)', (1280, 2091, 1697, 2352), H_V_AN, H_V_CA, H_AN, H_CA, 'BTU',
     (2.841, 0.00288), (2.854, -0.0028), (-0.004, 0.004),
     [-0.004, -0.003, -0.002, -0.001, 0.0, 0.001, 0.002, 0.003, 0.004],
     -0.165, -0.201, 0.50, (1180, 1622), (0.088, 0.948)),
    ('(i)', (2297, 3111, 1686, 2340), I_V_AN, I_V_CA, I_AN, I_CA, 'PVDF',
     (2.845, 0.00343), (2.843, -0.00229), (-0.0035, 0.0045),
     [-0.003, -0.002, -0.001, 0.0, 0.001, 0.002, 0.003, 0.004],
     -0.174, -0.201, 0.527, (2168, 1622), (0.096, 0.947)),
]
for (tag, box, van, vca, ian, ica, name, npos, rpos, ylim, yticks, xc, yc, ymid, tagpos, legpos) in row3:
    ax = add_ax(*box)
    gradient_bg(ax, ROW3_TOP, '#fffdfc')
    for a_i, c_i, col, lab in zip(ian, ica, CYCLE_COLORS, CYCLE_LABELS):
        ax.plot(list(van) + list(vca), list(a_i) + list(c_i), color=col, lw=4.0,
                label=lab, zorder=3, solid_joinstyle='round')
    ax.text(npos[0], npos[1], name, fontsize=30, ha='right', va='center', zorder=6)
    ax.text(rpos[0], rpos[1], r'0.1 mV s$^{-1}$', fontsize=30, ha='right', va='center', zorder=6)
    finish(ax, (1.6, 2.9), ylim, V_TICKS, yticks, 0.1, 0.0005, '%.1f', '%.3f')
    labels(ax, POT_LABEL, r'Current (A g$^{-1}$)', xc, yc, ymid)
    ax.legend(loc='upper left', bbox_to_anchor=legpos, frameon=False, prop=LEG_FONT,
              handlelength=2.35, handletextpad=0.25, labelspacing=0.38,
              borderpad=0, borderaxespad=0)
    fig.text(tagpos[0] / W, 1 - tagpos[1] / H, tag, fontsize=52, ha='center', va='center')

fig.savefig('out.png', dpi=100, facecolor='white')
